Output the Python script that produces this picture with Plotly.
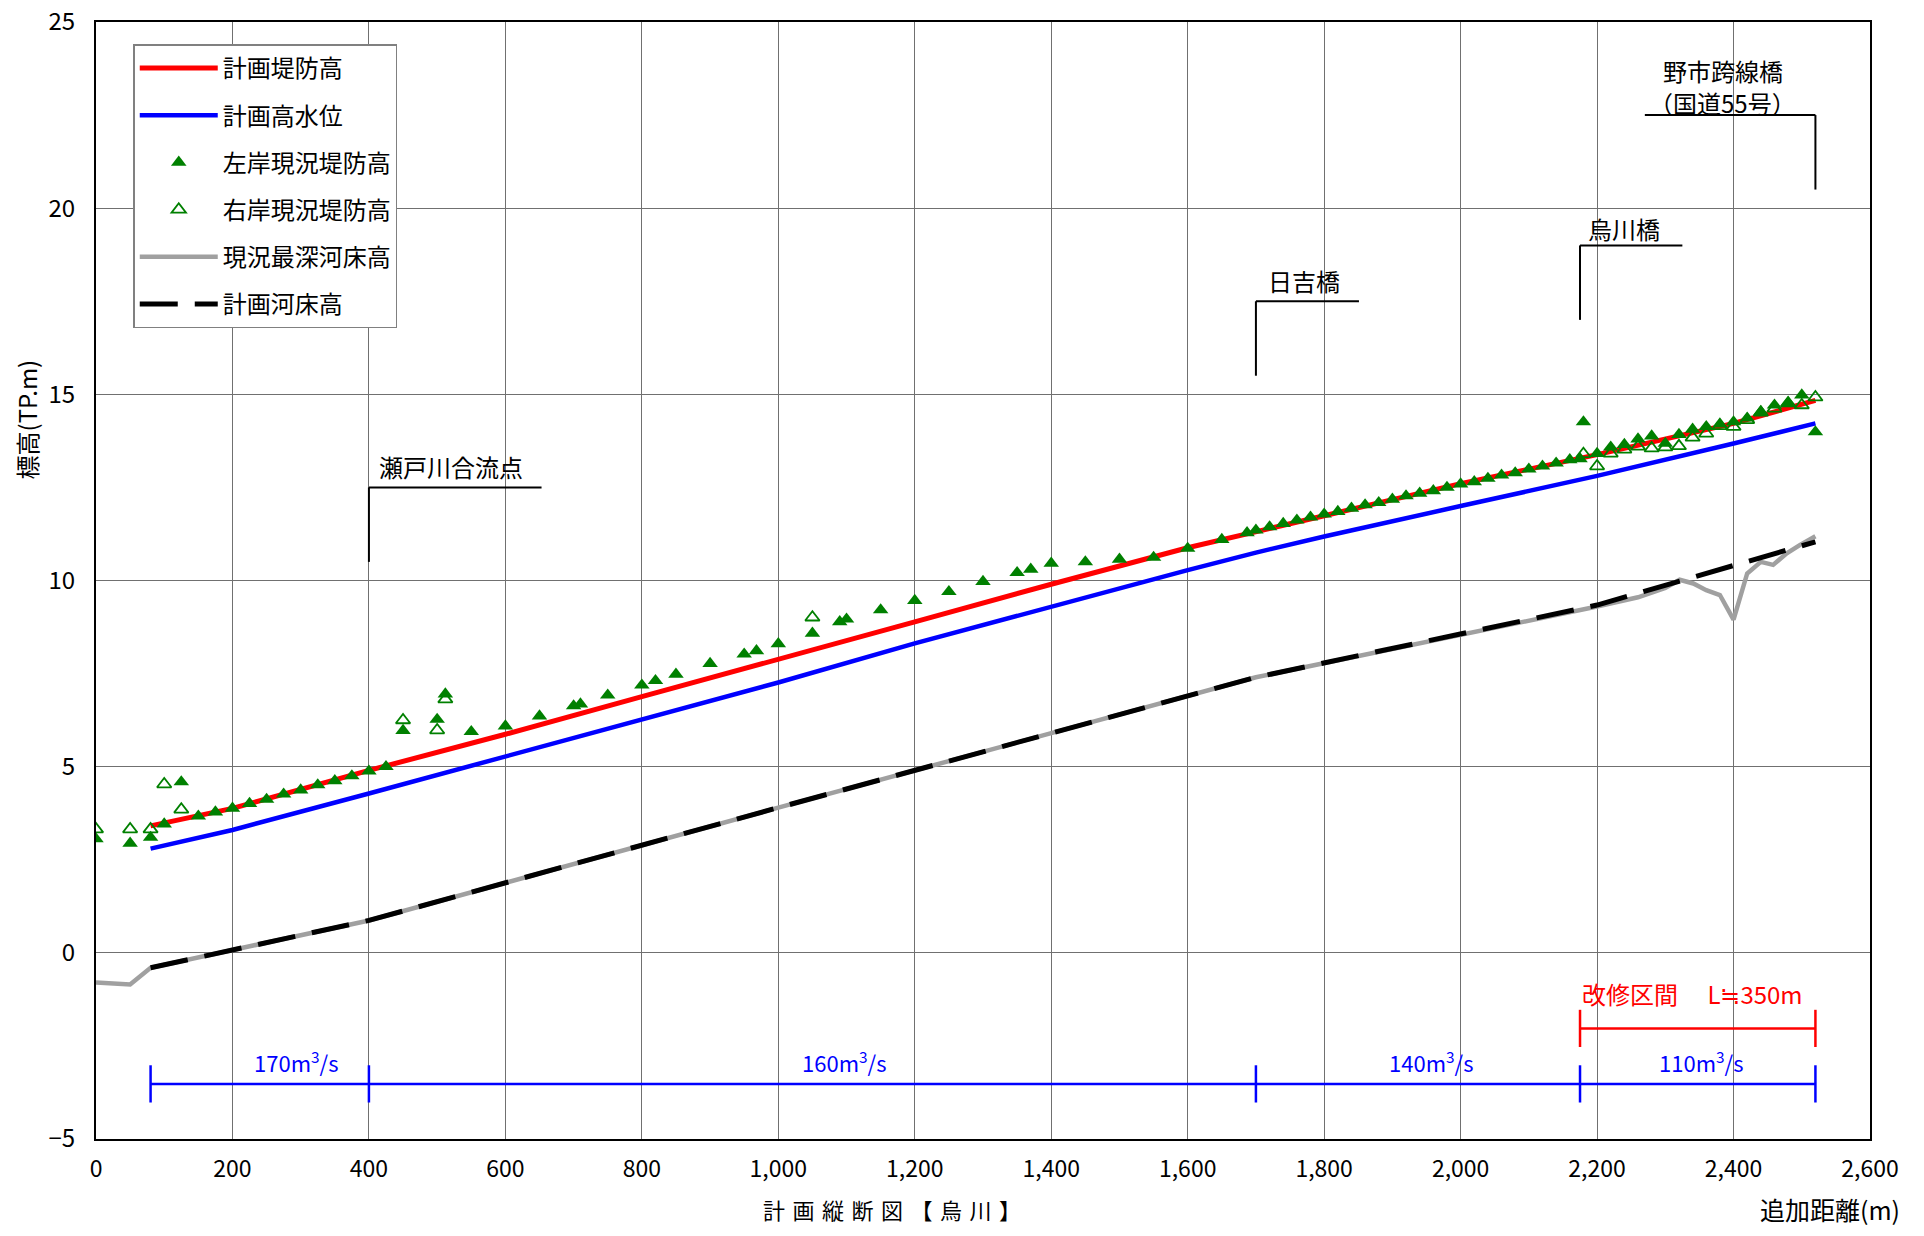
import plotly.graph_objects as go

FONT = "Noto Sans CJK JP"

# ---- data ----
# 計画堤防高 (planned levee height)
levee_x = [80, 200, 400, 600, 800, 1000, 1200, 1400, 1600, 1800, 2000, 2200, 2400, 2520]
levee_y = [3.41, 3.88, 4.90, 5.87, 6.88, 7.87, 8.89, 9.90, 10.88, 11.74, 12.60, 13.38, 14.22, 14.84]

# 計画高水位 (planned high water level)
hwl_x = [80, 200, 400, 600, 800, 1000, 1200, 1400, 1600, 1700, 1800, 2000, 2200, 2400, 2520]
hwl_y = [2.80, 3.30, 4.28, 5.27, 6.27, 7.26, 8.31, 9.30, 10.28, 10.75, 11.18, 12.00, 12.81, 13.68, 14.22]

# 左岸現況堤防高 (left bank, current levee)
left_x = [0, 50, 80, 100, 125, 150, 175, 200, 225, 250, 275, 300, 325, 350, 375, 400, 425,
          450, 500, 512, 550, 600, 650, 700, 710, 750, 800, 820, 850, 900, 950, 968, 1000,
          1050, 1090, 1100, 1150, 1200, 1250, 1300, 1350, 1370, 1400, 1450, 1500, 1550, 1600,
          1650, 1687, 1700, 1720, 1740, 1760, 1780, 1800, 1820, 1840, 1860, 1880, 1900, 1920,
          1940, 1960, 1980, 2000, 2020, 2040, 2060, 2080, 2100, 2120, 2140, 2160, 2175, 2180,
          2200, 2220, 2240, 2260, 2280, 2300, 2320, 2340, 2360, 2380, 2400, 2420, 2440, 2460,
          2480, 2500, 2520]
left_y = [3.06, 2.94, 3.10, 3.46, 4.59, 3.67, 3.78, 3.88, 4.01, 4.12, 4.26, 4.37, 4.51, 4.62, 4.75, 4.88, 5.00,
          5.97, 6.27, 6.95, 5.94, 6.09, 6.36, 6.63, 6.68, 6.92, 7.19, 7.31, 7.48, 7.77, 8.02, 8.11, 8.30,
          8.58, 8.89, 8.96, 9.21, 9.46, 9.70, 9.97, 10.21, 10.30, 10.46, 10.50, 10.57, 10.62, 10.86,
          11.10, 11.28, 11.35, 11.44, 11.53, 11.62, 11.70, 11.78, 11.85, 11.94, 12.03, 12.09, 12.18, 12.27,
          12.34, 12.41, 12.50, 12.59, 12.65, 12.74, 12.83, 12.89, 12.99, 13.07, 13.15, 13.24, 13.27, 14.26,
          13.41, 13.58, 13.65, 13.80, 13.88, 13.68, 13.92, 14.06, 14.13, 14.20, 14.26, 14.36, 14.53, 14.71,
          14.77, 14.98, 13.99]

# 右岸現況堤防高 (right bank, current levee)
right_x = [0, 50, 80, 100, 125, 450, 500, 512, 1050, 2180, 2200, 2220, 2240, 2260, 2280, 2300,
           2320, 2340, 2360, 2380, 2400, 2420, 2440, 2460, 2480, 2500, 2520]
right_y = [3.32, 3.32, 3.32, 4.53, 3.85, 6.25, 5.98, 6.81, 9.01, 13.40, 13.07, 13.41, 13.52, 13.60, 13.55, 13.58,
           13.61, 13.84, 13.95, 14.15, 14.13, 14.31, 14.51, 14.62, 14.76, 14.71, 14.92]

# 現況最深河床高 (current deepest riverbed)
bed_x = [0, 50, 80, 400, 1000, 1700, 2200, 2260, 2300, 2321, 2341, 2360, 2380, 2400, 2420, 2440,
         2458, 2478, 2497, 2520]
bed_y = [-0.80, -0.85, -0.40, 0.87, 3.90, 7.40, 9.30, 9.55, 9.80, 10.02, 9.92, 9.74, 9.61, 8.95, 10.19, 10.50,
         10.42, 10.73, 10.95, 11.19]

# 計画河床高 (planned riverbed)
plan_bed_x = [80, 400, 1000, 1700, 2200, 2520]
plan_bed_y = [-0.40, 0.87, 3.90, 7.40, 9.34, 11.04]

# bridges / confluence annotations
bridge_names = ["瀬戸川合流点", "日吉橋", "烏川橋"]
bridge_station = [400, 1700, 2175]
bridge_y0 = [10.5, 15.5, 17.0]
bridge_y1 = [12.5, 17.5, 19.0]
bridge_arm_end = [653, 1851, 2325]
bridge_label_x = [520, 1770, 2240]
bridge_label_y = [13.05, 18.05, 19.45]

# 野市跨線橋 (arm going left)
noichi_names = ["野市跨線橋", "（国道55号）"]
noichi_station = 2520
noichi_y0, noichi_y1 = 20.5, 22.5
noichi_arm_start = 2270
noichi_label_x = 2384
noichi_label_y = [23.7, 22.85]

# design discharge segments
flow_bounds = [80, 400, 1700, 2175, 2520]
flow_labels = ["170m<sup>3</sup>/s", "160m<sup>3</sup>/s", "140m<sup>3</sup>/s", "110m<sup>3</sup>/s"]
flow_label_x = [293, 1097, 1956, 2352]
flow_y = -3.52
flow_label_y = -2.93

# improvement section
improve_bounds = [2175, 2520]
improve_label = "改修区間　 L≒350m"
improve_y = -2.03
improve_label_y = -1.1

# ticks
x_tick_vals = [0, 200, 400, 600, 800, 1000, 1200, 1400, 1600, 1800, 2000, 2200, 2400, 2600]
x_tick_text = ["0", "200", "400", "600", "800", "1,000", "1,200", "1,400", "1,600", "1,800",
               "2,000", "2,200", "2,400", "2,600"]
y_tick_vals = [-5, 0, 5, 10, 15, 20, 25]

# ---- figure ----
fig = go.Figure()

fig.add_trace(go.Scatter(x=levee_x, y=levee_y, mode="lines", name="計画堤防高",
                         legendgroup="a", line=dict(color="#ff0000", width=5)))
fig.add_trace(go.Scatter(x=hwl_x, y=hwl_y, mode="lines", name="計画高水位",
                         legendgroup="b", line=dict(color="#0000ff", width=4.5)))
fig.add_trace(go.Scatter(x=left_x, y=left_y, mode="markers", name="左岸現況堤防高",
                         legendgroup="c",
                         marker=dict(symbol="triangle-up", size=13.5, color="#008000",
                                     line=dict(width=0))))
fig.add_trace(go.Scatter(x=right_x, y=right_y, mode="markers", name="右岸現況堤防高",
                         legendgroup="d",
                         marker=dict(symbol="triangle-up-open", size=12.5, color="#008000",
                                     line=dict(width=1.8, color="#008000"))))
fig.add_trace(go.Scatter(x=bed_x, y=bed_y, mode="lines", name="現況最深河床高",
                         legendgroup="e", line=dict(color="#a0a0a0", width=4.5)))
fig.add_trace(go.Scatter(x=plan_bed_x, y=plan_bed_y, mode="lines", name="計画河床高",
                         legendgroup="f", line=dict(color="#000000", width=5, dash="38px,17px")))

shapes = []
annotations = []

line_black = dict(color="#000000", width=2)
for name, st, y0, y1, xe, lx, ly in zip(bridge_names, bridge_station, bridge_y0, bridge_y1,
                                          bridge_arm_end, bridge_label_x, bridge_label_y):
    shapes.append(dict(type="line", xref="x", yref="y", x0=st, x1=st, y0=y0, y1=y1, line=line_black))
    shapes.append(dict(type="line", xref="x", yref="y", x0=st, x1=xe, y0=y1, y1=y1, line=line_black))
    annotations.append(dict(x=lx, y=ly, xref="x", yref="y", text=name, showarrow=False,
                            font=dict(size=24, color="#000000", family=FONT)))

shapes.append(dict(type="line", xref="x", yref="y", x0=noichi_station, x1=noichi_station,
                   y0=noichi_y0, y1=noichi_y1, line=line_black))
shapes.append(dict(type="line", xref="x", yref="y", x0=noichi_arm_start, x1=noichi_station,
                   y0=noichi_y1, y1=noichi_y1, line=line_black))
for t, ly in zip(noichi_names, noichi_label_y):
    annotations.append(dict(x=noichi_label_x, y=ly, xref="x", yref="y", text=t, showarrow=False,
                            font=dict(size=24, color="#000000", family=FONT)))

# flow segments
blue = dict(color="#0000ff", width=2.5)
shapes.append(dict(type="line", xref="x", yref="y", x0=flow_bounds[0], x1=flow_bounds[-1],
                   y0=flow_y, y1=flow_y, line=blue))
for b in flow_bounds:
    shapes.append(dict(type="line", xref="x", yref="y", x0=b, x1=b, y0=flow_y + 0.5, y1=flow_y - 0.5,
                       line=blue))
for t, lx in zip(flow_labels, flow_label_x):
    annotations.append(dict(x=lx, y=flow_label_y, xref="x", yref="y", text=t, showarrow=False,
                            font=dict(size=22, color="#0000ff", family=FONT)))

# improvement section
red = dict(color="#ff0000", width=2.5)
shapes.append(dict(type="line", xref="x", yref="y", x0=improve_bounds[0], x1=improve_bounds[1],
                   y0=improve_y, y1=improve_y, line=red))
for b in improve_bounds:
    shapes.append(dict(type="line", xref="x", yref="y", x0=b, x1=b, y0=improve_y + 0.5,
                       y1=improve_y - 0.5, line=red))
annotations.append(dict(x=improve_bounds[0], y=improve_label_y, xref="x", yref="y", text=improve_label,
                        showarrow=False, xanchor="left",
                        font=dict(size=24, color="#ff0000", family=FONT)))

# axis titles
annotations.append(dict(x=0.451, y=-0.0625, xref="paper", yref="paper",
                        text='<span style="letter-spacing:7.5px">計画縦断図【烏川】</span>',
                        showarrow=False, yanchor="middle",
                        font=dict(size=22, color="#000000", family=FONT)))
annotations.append(dict(x=1.018, y=-0.0625, xref="paper", yref="paper", text="追加距離(m)",
                        showarrow=False, yanchor="middle", xanchor="right",
                        font=dict(size=25, color="#000000", family=FONT)))
annotations.append(dict(x=-0.039, y=0.644, xref="paper", yref="paper", text="標高(TP.m)",
                        showarrow=False, textangle=-90, xanchor="center", yanchor="middle",
                        font=dict(size=24, color="#000000", family=FONT)))

fig.update_layout(
    width=1908, height=1220,
    margin=dict(l=88, r=46, t=14, b=89, autoexpand=False),
    paper_bgcolor="white", plot_bgcolor="white",
    font=dict(family=FONT, size=22, color="#000000"),
    shapes=shapes, annotations=annotations,
    showlegend=True,
    legend=dict(x=0.021, y=0.98, xanchor="left", yanchor="top",
                bgcolor="white", bordercolor="#808080", borderwidth=1.5,
                font=dict(size=24, family=FONT), traceorder="grouped", tracegroupgap=13,
                itemwidth=78),
)
fig.update_xaxes(range=[0, 2600], tickvals=x_tick_vals, ticktext=x_tick_text,
                 showgrid=True, gridcolor="#707070", gridwidth=1, automargin=False,
                 showline=True, linecolor="#000000", linewidth=2, mirror=True,
                 zeroline=False, ticks="", ticklabelstandoff=8, ticklabeloverflow="allow",
                 tickfont=dict(size=23, family=FONT))
fig.update_yaxes(range=[-5, 25], tickvals=y_tick_vals, automargin=False,
                 showgrid=True, gridcolor="#707070", gridwidth=1,
                 showline=True, linecolor="#000000", linewidth=2, mirror=True,
                 zeroline=False, ticks="", ticklabelstandoff=14, ticklabeloverflow="allow",
                 tickfont=dict(size=24, family=FONT))

fig.write_html("out.html")
